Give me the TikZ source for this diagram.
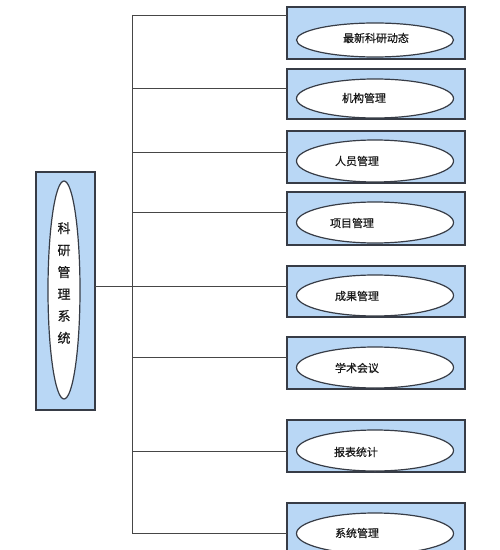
\documentclass[tikz,border=0pt]{standalone}
\usepackage{fontspec}
\newfontfamily\cjk[FakeBold=0.6]{Noto Sans CJK SC}
\usetikzlibrary{shapes.geometric}
\definecolor{boxfill}{RGB}{185,215,245}
\definecolor{edge}{RGB}{55,60,70}
\definecolor{wire}{RGB}{70,70,70}
\tikzset{
  modbox/.style={draw=edge, line width=1.1bp, fill=boxfill, inner sep=0pt, outer sep=0pt},
  modell/.style={ellipse, draw=edge, line width=1.2bp, fill=white, inner sep=0pt, outer sep=0pt},
  modtext/.style={font=\cjk\fontsize{11}{12}\selectfont, text=black!90, inner sep=0pt},
  wirestyle/.style={draw=wire, line width=0.9bp}
}
\begin{document}
\begin{tikzpicture}[x=1bp,y=-1bp]
\clip (0,0) rectangle (500,550);
\fill[white] (0,0) rectangle (500,550);
% left box
\node[modbox, minimum width=59bp, minimum height=238bp] (L) at (65.5,291) {};
\node[modell, minimum width=32bp, minimum height=218bp] (Le) at (64,290) {};
\node[font=\cjk\fontsize{13}{22}\selectfont, align=center, inner sep=0pt, text=black!90] (Lt) at (64,283) {科\\研\\管\\理\\系\\统};
% right boxes: top, bottom
\foreach \i/\t/\b in {1/7/59, 2/69/119, 3/131/183, 4/192/245, 5/266/317, 6/337/389, 7/420/472, 8/503/555}{
  \pgfmathsetmacro{\cy}{(\t+\b)/2}
  \pgfmathsetmacro{\h}{\b-\t}
  \node[modbox, minimum width=178bp, minimum height=\h bp] (b\i) at (376,\cy) {};
}
\foreach \i/\t/\b in {1/23/57, 2/79/118, 3/140/182, 4/202/243, 5/275/316, 6/347/388, 7/430/471, 8/513/554}{
  \pgfmathsetmacro{\cy}{(\t+\b)/2}
  \pgfmathsetmacro{\h}{\b-\t}
  \node[modell, minimum width=157bp, minimum height=\h bp] (e\i) at (375,\cy) {};
}
\node[modtext] (t1) at (376,38) {最新科研动态};
\node[modtext] (t2) at (364,98) {机构管理};
\node[modtext] (t3) at (357,161) {人员管理};
\node[modtext] (t4) at (352,223) {项目管理};
\node[modtext] (t5) at (357,296) {成果管理};
\node[modtext] (t6) at (357,368) {学术会议};
\node[modtext] (t7) at (356,452) {报表统计};
\node[modtext] (t8) at (357,533) {系统管理};
% junctions
\foreach \i/\y in {1/15, 2/88, 3/152, 4/212, 5/286, 6/357, 7/451, 8/533}{
  \coordinate (j\i) at (132,\y);
  \draw[wirestyle] (j\i) -- (b\i.west |- j\i);
}
\draw[wirestyle] (j1) -- (j8);
\draw[wirestyle] (L.east |- j5) -- (j5);
\end{tikzpicture}
\end{document}
